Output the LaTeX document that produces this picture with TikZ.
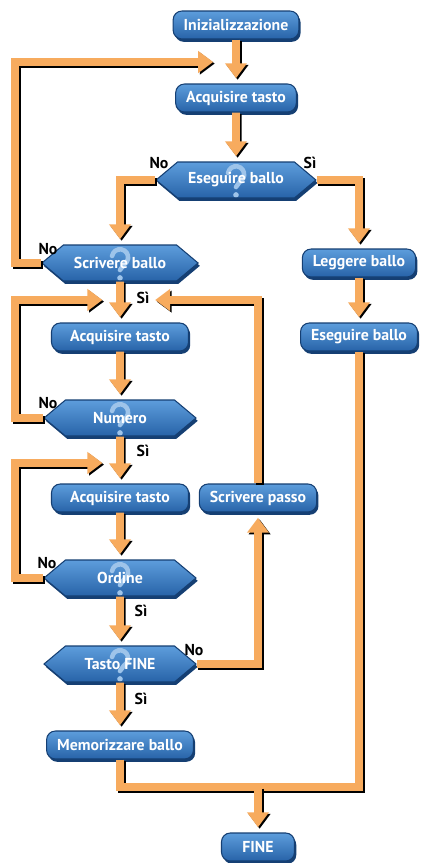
\documentclass[tikz,border=0pt]{standalone}
\usepackage{fontspec}
\setmainfont{PT Sans}
\usetikzlibrary{arrows.meta}
\usetikzlibrary{shapes.symbols}
\usetikzlibrary{shadows}

\definecolor{boxtop}{HTML}{5D9DDC}
\definecolor{boxbot}{HTML}{2763A8}
\definecolor{boxdark}{HTML}{153F73}
\definecolor{pipeorange}{HTML}{F7AB5E}

\tikzset{
	blockbox/.style={draw=boxdark, line width=0.6pt, rounded corners=5pt,
		top color=boxtop, bottom color=boxbot, text=white,
		font=\bfseries\fontsize{9}{10}\selectfont,
		minimum height=0.56cm, inner xsep=6pt,
		drop shadow={shadow xshift=1pt, shadow yshift=-1.6pt, fill=boxdark, opacity=1}},
	qmark/.style={draw=boxtop!60!white, line width=2.6pt, line cap=round},
	askbox/.style={blockbox, rounded corners=0pt, signal, signal to=east and west,
		signal pointer angle=80, minimum width=3.04cm, minimum height=0.72cm,
		path picture={
			\draw[qmark] ([shift={(-4.5pt,4pt)}]path picture bounding box.center)
				arc[start angle=170, end angle=-60, radius=4.6pt]
				-- ([shift={(0pt,-4pt)}]path picture bounding box.center);
			\fill[boxtop!60!white] ([shift={(0pt,-8.5pt)}]path picture bounding box.center) circle[radius=1.6pt];}},
	pipe/.style={draw=pipeorange, line width=4.5pt,
		preaction={draw=black, line width=4.5pt, transform canvas={shift={(0.9pt,-0.9pt)}}}},
	flow/.style={pipe, -{Triangle[length=8.5pt, width=12pt]}, shorten >=3pt},
	answer/.style={font=\bfseries\fontsize{9}{10}\selectfont, text=black}
}

\begin{document}
\begin{tikzpicture}[x=0.02cm, y=-0.02cm]

	\useasboundingbox[fill=white] (0,0) rectangle (420,863);

	%Blocks
	\node[blockbox] (init) at (236,25) {Inizializzazione};
	\node[blockbox] (acqA) at (236,98) {Acquisire tasto};
	\node[askbox] (esegq) at (236,180) {Eseguire ballo};
	\node[askbox] (scrivq) at (120,263) {Scrivere ballo};
	\node[blockbox] (legg) at (359,263) {Leggere ballo};
	\node[blockbox] (esegr) at (359,337) {Eseguire ballo};
	\node[blockbox, minimum width=2.74cm] (acqB) at (120,337) {Acquisire tasto};
	\node[askbox] (numq) at (120,418) {Numero};
	\node[blockbox, minimum width=2.74cm] (acqC) at (120,498) {Acquisire tasto};
	\node[blockbox] (passo) at (258,498) {Scrivere passo};
	\node[askbox] (ordq) at (120,578) {Ordine};
	\node[askbox] (fineq) at (120,664) {Tasto FINE};
	\node[blockbox] (memo) at (120,745) {Memorizzare ballo};
	\node[blockbox, minimum width=1.46cm] (fine) at (258,847) {FINE};

	%Bends
	\coordinate (loopA) at (15,62);
	\coordinate (joinA) at (236,62);
	\coordinate (loopB) at (15,300);
	\coordinate (joinB) at (120,300);
	\coordinate (loopC) at (15,463);
	\coordinate (joinC) at (120,463);
	\coordinate (bend) at (359,787);
	\coordinate (joinD) at (258,787);

	%Connectors
	\draw[pipe] (memo) |- (bend) -- (esegr);
	\draw[flow] (joinD) -- (fine);
	\draw[flow] (init) -- (acqA);
	\draw[flow] (acqA) -- (esegq);
	\draw[flow] (esegq.west) -| (scrivq);
	\draw[flow] (esegq.east) -| (legg);
	\draw[flow] (legg) -- (esegr);
	\draw[flow, shorten >=13pt] (scrivq.west) -| (loopA) -- (joinA);
	\draw[flow] (scrivq) -- (acqB);
	\draw[flow, shorten >=10pt] (numq.west) -| (loopB) -- (joinB);
	\draw[flow, shorten >=20pt] (passo) |- (joinB);
	\draw[flow] (acqB) -- (numq);
	\draw[flow] (numq) -- (acqC);
	\draw[flow, shorten >=10pt] (ordq.west) -| (loopC) -- (joinC);
	\draw[flow] (acqC) -- (ordq);
	\draw[flow] (ordq) -- (fineq);
	\draw[flow] (fineq.east) -| (passo);
	\draw[flow] (fineq) -- (memo);

	%Answers
	\node[answer] (noA) at (159,163) {No};
	\node[answer] (siA) at (310,163) {Sì};
	\node[answer] (noB) at (48,249) {No};
	\node[answer] (siB) at (143,298) {Sì};
	\node[answer] (noC) at (48,403) {No};
	\node[answer] (siC) at (143,451) {Sì};
	\node[answer] (noD) at (47,563) {No};
	\node[answer] (siD) at (141,611) {Sì};
	\node[answer] (noE) at (194,650) {No};
	\node[answer] (siE) at (141,699) {Sì};

\end{tikzpicture}
\end{document}
